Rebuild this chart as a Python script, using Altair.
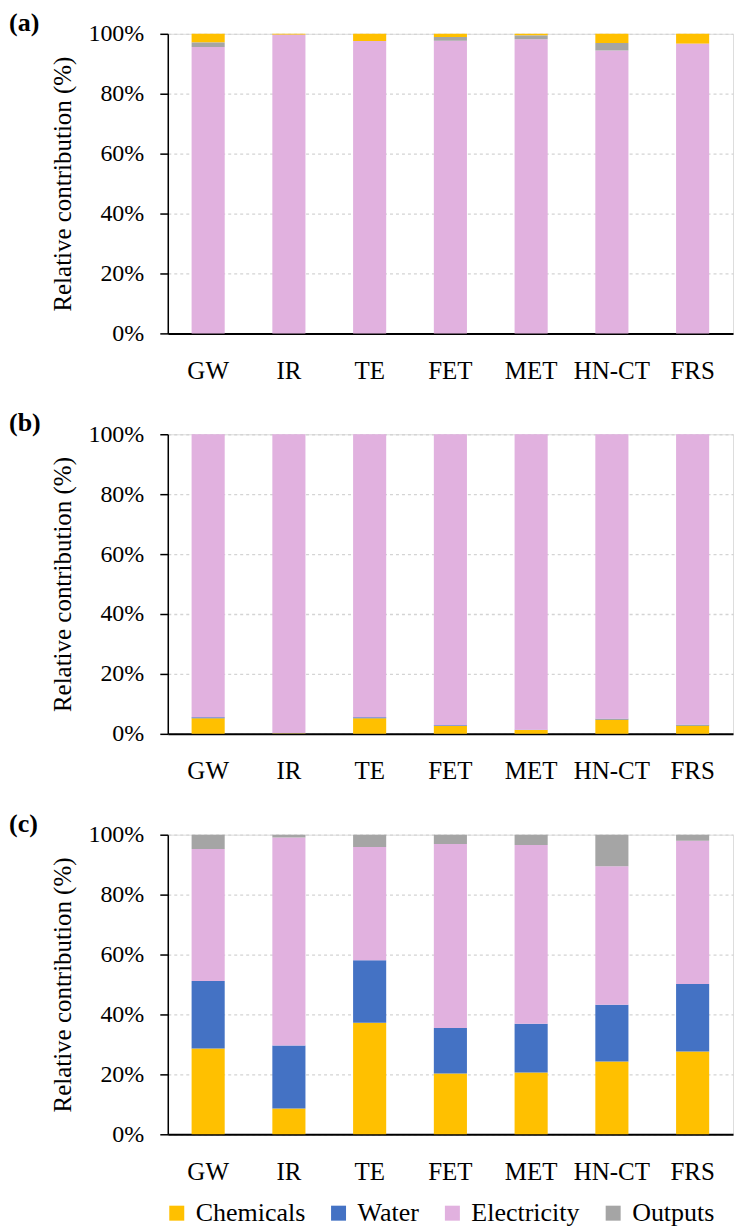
import altair as alt
import pandas as pd

FONT = "Liberation Serif"

categories = ["GW", "IR", "TE", "FET", "MET", "HN-CT", "FRS"]
components = ["Chemicals", "Water", "Electricity", "Outputs"]
colors = ["#FFC000", "#4472C4", "#E1B1DF", "#A5A5A5"]

# Panel (a)
a_chemicals = [2.9, 0.3, 2.4, 1.1, 0.6, 3.1, 3.3]
a_water = [0.0, 0.0, 0.0, 0.0, 0.0, 0.0, 0.0]
a_electricity = [95.6, 99.7, 97.6, 97.7, 98.2, 94.4, 96.7]
a_outputs = [1.5, 0.0, 0.0, 1.2, 1.2, 2.5, 0.0]

# Panel (b)
b_chemicals = [5.2, 0.2, 5.2, 2.6, 1.3, 4.8, 2.8]
b_water = [0.3, 0.1, 0.3, 0.3, 0.1, 0.2, 0.2]
b_electricity = [94.5, 99.7, 94.5, 97.1, 98.6, 95.0, 97.0]
b_outputs = [0.0, 0.0, 0.0, 0.0, 0.0, 0.0, 0.0]

# Panel (c)
c_chemicals = [28.6, 8.6, 37.2, 20.3, 20.6, 24.3, 27.6]
c_water = [22.6, 21.0, 20.9, 15.2, 16.3, 18.9, 22.6]
c_electricity = [44.0, 69.5, 37.8, 61.4, 59.7, 46.3, 47.8]
c_outputs = [4.8, 0.9, 4.1, 3.1, 3.4, 10.5, 2.0]

order_a = ["Electricity", "Water", "Outputs", "Chemicals"]
order_bc = ["Chemicals", "Water", "Electricity", "Outputs"]


def make_df(series, order):
    rows = []
    for comp, vals in zip(components, series):
        for cat, v in zip(categories, vals):
            rows.append({"cat": cat, "component": comp, "value": v,
                         "ord": order.index(comp)})
    return pd.DataFrame(rows)


df_a = make_df([a_chemicals, a_water, a_electricity, a_outputs], order_a)
df_b = make_df([b_chemicals, b_water, b_electricity, b_outputs], order_bc)
df_c = make_df([c_chemicals, c_water, c_electricity, c_outputs], order_bc)

legend = alt.Legend(title=None, orient="none", direction="horizontal",
                    legendX=-4, legendY=1168, symbolType="square",
                    symbolSize=225, symbolStrokeWidth=0,
                    labelFontSize=26, labelFont=FONT, labelColor="black",
                    columnPadding=20, labelOffset=6)


def panel(label, df):
    color = alt.Color("component:N",
                      scale=alt.Scale(domain=components, range=colors),
                      legend=legend)
    return alt.Chart(df, title=alt.TitleParams(
        label, anchor="start", fontWeight="bold", fontSize=26, font=FONT,
        dx=-42, offset=-14, color="black")).mark_bar().encode(
        x=alt.X("cat:N", sort=categories,
                scale=alt.Scale(paddingInner=0.59, paddingOuter=0.295),
                axis=alt.Axis(title=None, labelAngle=0, ticks=False,
                              domainColor="black", domainWidth=2,
                              labelFontSize=25, labelFont=FONT,
                              labelColor="black", labelPadding=25, grid=False)),
        y=alt.Y("value:Q", stack="zero",
                scale=alt.Scale(domain=[0, 100], nice=False),
                axis=alt.Axis(values=[0, 20, 40, 60, 80, 100],
                              labelExpr="datum.value + '%'",
                              title="Relative contribution (%)",
                              titleFontSize=25, titleFont=FONT,
                              titleFontWeight="normal", titleColor="black",
                              titlePadding=12,
                              labelFontSize=24, labelFont=FONT,
                              labelColor="black", labelPadding=16,
                              tickSize=8, tickColor="black", tickWidth=1.5,
                              domainColor="black", domainWidth=1.5,
                              grid=True, gridDash=[3, 3],
                              gridColor="#d4d4d4", gridWidth=1.3)),
        color=color,
        order=alt.Order("ord:Q"),
    ).properties(width=566, height=300)


chart = alt.vconcat(
    panel("(a)", df_a),
    panel("(b)", df_b),
    panel("(c)", df_c),
    spacing=25,
).resolve_scale(color="shared").properties(
    padding={"left": 0, "top": 0, "right": 0, "bottom": 0}
).configure_view(stroke=None).configure(font=FONT)

chart.save("out.html", embed_options={"renderer": "svg", "actions": False})
